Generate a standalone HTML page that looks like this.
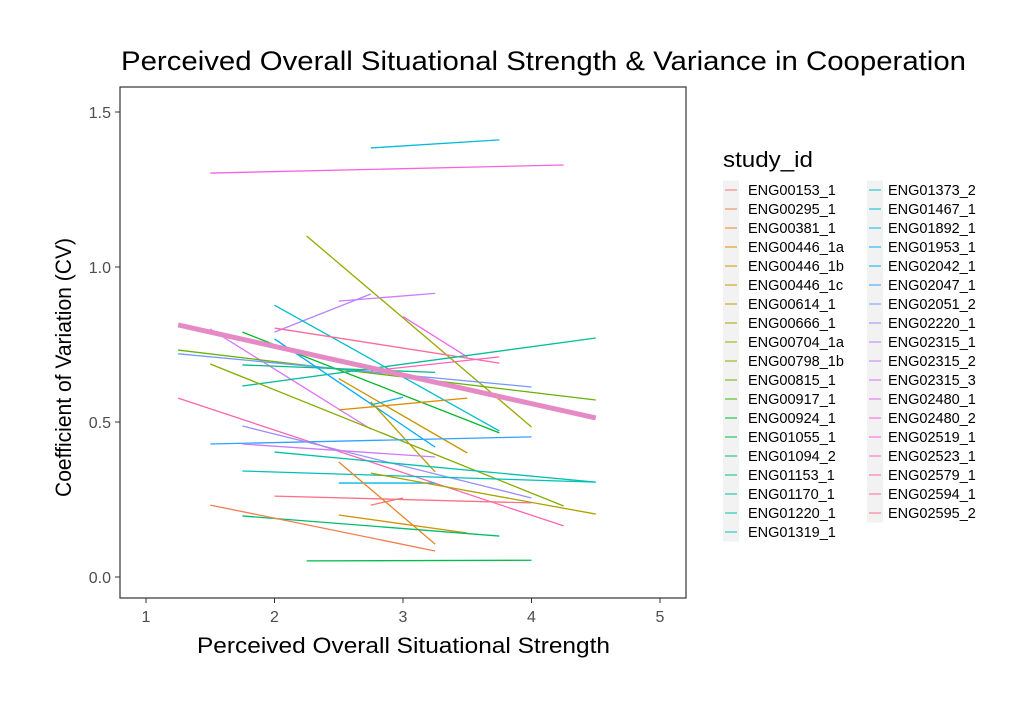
<!DOCTYPE html>
<html><head><meta charset="utf-8"><style>
body{margin:0;background:#fff;}
svg{display:block;font-family:"Liberation Sans",Arial,sans-serif;}
</style></head><body>
<svg id="chart" width="1034" height="716" viewBox="0 0 1034 716">
<rect x="0" y="0" width="1034" height="716" fill="#fff"/>
<text x="121" y="70" font-size="27" textLength="845" lengthAdjust="spacingAndGlyphs" fill="#000">Perceived Overall Situational Strength &amp; Variance in Cooperation</text>
<rect x="120" y="87" width="566" height="511" fill="#fff"/>
<g id="ticks"></g>
<g id="lines"></g>
<rect x="120" y="87" width="566" height="511" fill="none" stroke="#333" stroke-width="1.2"/>
<text x="197" y="653" font-size="22" textLength="413" lengthAdjust="spacingAndGlyphs">Perceived Overall Situational Strength</text>
<text transform="translate(71,497) rotate(-90)" font-size="22" textLength="259" lengthAdjust="spacingAndGlyphs">Coefficient of Variation (CV)</text>
<text x="723" y="167" font-size="22" textLength="90" lengthAdjust="spacingAndGlyphs">study_id</text>
<g id="legend"></g>
</svg>
<script>
const studies=["ENG00153_1","ENG00295_1","ENG00381_1","ENG00446_1a","ENG00446_1b","ENG00446_1c","ENG00614_1","ENG00666_1","ENG00704_1a","ENG00798_1b","ENG00815_1","ENG00917_1","ENG00924_1","ENG01055_1","ENG01094_2","ENG01153_1","ENG01170_1","ENG01220_1","ENG01319_1","ENG01373_2","ENG01467_1","ENG01892_1","ENG01953_1","ENG02042_1","ENG02047_1","ENG02051_2","ENG02220_1","ENG02315_1","ENG02315_2","ENG02315_3","ENG02480_1","ENG02480_2","ENG02519_1","ENG02523_1","ENG02579_1","ENG02594_1","ENG02595_2"];
const segStudy=[20,31,8,27,28,19,35,33,29,30,12,10,25,16,15,9,34,5,3,22,23,6,24,26,28,17,18,21,7,36,0,2,4,14,1,13];
const segX1=[2.75,1.5,2.25,2.0,2.5,2.0,2.0,2.75,1.5,3.0,1.75,1.25,1.25,1.75,1.75,1.5,1.25,2.5,2.5,2.75,2.0,2.75,1.5,1.75,1.75,2.0,1.75,2.5,2.75,2.0,2.75,2.5,2.5,1.75,1.5,2.25];
const segX2=[3.75,4.25,4.0,2.75,3.25,3.75,3.75,3.75,2.75,3.5,3.75,4.5,4.0,4.5,3.25,4.25,4.25,3.5,3.5,3.0,3.25,3.25,4.0,4.0,3.25,4.5,4.5,3.25,4.5,4.0,3.0,3.25,3.5,3.75,3.25,4.0];
const segY1=[1.384,1.303,1.10,0.79,0.89,0.877,0.803,0.665,0.80,0.84,0.79,0.732,0.72,0.616,0.684,0.687,0.577,0.64,0.539,0.555,0.768,0.565,0.429,0.487,0.429,0.403,0.342,0.303,0.335,0.261,0.232,0.371,0.20,0.197,0.232,0.052];
const segY2=[1.410,1.329,0.484,0.913,0.915,0.471,0.690,0.71,0.477,0.71,0.465,0.571,0.613,0.771,0.66,0.229,0.165,0.40,0.577,0.58,0.419,0.339,0.452,0.255,0.387,0.306,0.306,0.303,0.203,0.239,0.255,0.106,0.142,0.132,0.084,0.054];
const trendX=[1.25,4.5];
const trendY=[0.813,0.513];
const xTicks=[1,2,3,4,5];
const yTicks=[0,0.5,1.0,1.5];
const yTickLabels=["0.0","0.5","1.0","1.5"];
const NS="http://www.w3.org/2000/svg";
function xs(v){return 146+(v-1)*128.5;}
function ys(v){return 577-v*310;}
function hcl(h,c,l){const hr=h*Math.PI/180;const U=c*Math.cos(hr),V=c*Math.sin(hr);
const un=0.19783,vn=0.46832;const Y=l>8?Math.pow((l+16)/116,3):l/903.3;
const up=U/(13*l)+un,vp=V/(13*l)+vn;const X=Y*9*up/(4*vp),Z=Y*(12-3*up-20*vp)/(4*vp);
let r=3.2406*X-1.5372*Y-0.4986*Z,g=-0.9689*X+1.8758*Y+0.0415*Z,b=0.0557*X-0.2040*Y+1.0570*Z;
const f=t=>{t=t<=0.0031308?12.92*t:1.055*Math.pow(t,1/2.4)-0.055;return Math.round(Math.max(0,Math.min(1,t))*255);};
return "rgb("+f(r)+","+f(g)+","+f(b)+")";}
const cols=studies.map((s,i)=>hcl(15+i*360/studies.length,100,65));
const tk=document.getElementById('ticks');
xTicks.forEach(t=>{const l=document.createElementNS(NS,'line');l.setAttribute('x1',xs(t));l.setAttribute('x2',xs(t));l.setAttribute('y1',598);l.setAttribute('y2',603);l.setAttribute('stroke','#333');


tk.appendChild(l);
const tx=document.createElementNS(NS,'text');tx.setAttribute('x',xs(t));tx.setAttribute('y',622);tx.setAttribute('text-anchor','middle');tx.setAttribute('font-size','16');tx.setAttribute('fill','#4d4d4d');tx.textContent=t;


tk.appendChild(tx);});
yTicks.forEach((t,i)=>{const l=document.createElementNS(NS,'line');l.setAttribute('x1',115);l.setAttribute('x2',120);l.setAttribute('y1',ys(t));l.setAttribute('y2',ys(t));l.setAttribute('stroke','#333');


tk.appendChild(l);
const tx=document.createElementNS(NS,'text');tx.setAttribute('x',111);tx.setAttribute('y',ys(t)+6);tx.setAttribute('text-anchor','end');tx.setAttribute('font-size','16');tx.setAttribute('fill','#4d4d4d');tx.textContent=yTickLabels[i];


tk.appendChild(tx);});
const lg=document.getElementById('lines');
segStudy.forEach((s,i)=>{const l=document.createElementNS(NS,'line');
l.setAttribute('x1',xs(segX1[i]));l.setAttribute('x2',xs(segX2[i]));l.setAttribute('y1',ys(segY1[i]));l.setAttribute('y2',ys(segY2[i]));
l.setAttribute('stroke',cols[s]);l.setAttribute('stroke-width','1.3');


lg.appendChild(l);});
const tr=document.createElementNS(NS,'line');
tr.setAttribute('x1',xs(trendX[0]));tr.setAttribute('x2',xs(trendX[1]));tr.setAttribute('y1',ys(trendY[0]));tr.setAttribute('y2',ys(trendY[1]));
tr.setAttribute('stroke','#e68ac6');tr.setAttribute('stroke-width','5');


lg.appendChild(tr);
const leg=document.getElementById('legend');
studies.forEach((s,i)=>{const col=i<19?0:1;const row=i<19?i:i-19;const x0=col?868:724;const tx0=col?888:748;const y=190+row*19;
const g=document.createElementNS(NS,'g');


const bg=document.createElementNS(NS,'rect');bg.setAttribute('x',x0-1);bg.setAttribute('y',y-9.5);bg.setAttribute('width',16);bg.setAttribute('height',19);bg.setAttribute('fill','#f2f2f2');g.appendChild(bg);
const kl=document.createElementNS(NS,'line');kl.setAttribute('x1',x0+1);kl.setAttribute('x2',x0+13);kl.setAttribute('y1',y);kl.setAttribute('y2',y);kl.setAttribute('stroke',cols[i]);kl.setAttribute('stroke-width','1');g.appendChild(kl);
const t=document.createElementNS(NS,'text');t.setAttribute('x',tx0);t.setAttribute('y',y+5);t.setAttribute('font-size','14.5');t.textContent=s;g.appendChild(t);
leg.appendChild(g);});
</script>
</body></html>
